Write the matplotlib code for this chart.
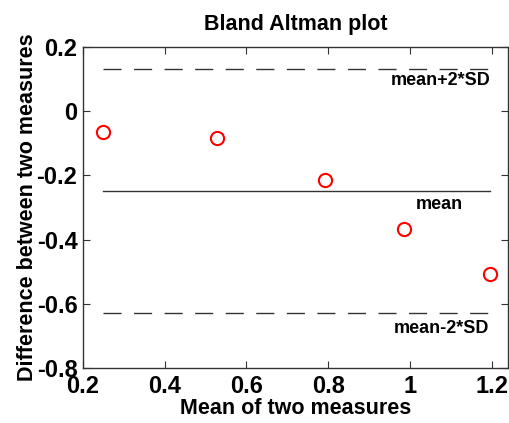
import matplotlib
matplotlib.use("Agg")
import matplotlib.pyplot as plt
import numpy as np

plt.rcParams['font.family'] = ['Liberation Sans', 'DejaVu Sans']
plt.rcParams['font.weight'] = 'bold'

mean_vals = [0.25, 0.527, 0.793, 0.985, 1.196]
diff_vals = [-0.065, -0.083, -0.213, -0.368, -0.508]
mean_diff = -0.25
upper = 0.13
lower = -0.63
xticks = [0.2, 0.4, 0.6, 0.8, 1.0, 1.2]
xticklabels = ['0.2', '0.4', '0.6', '0.8', '1', '1.2']
yticks = [-0.8, -0.6, -0.4, -0.2, 0, 0.2]
yticklabels = ['-0.8', '-0.6', '-0.4', '-0.2', '0', '0.2']

fig = plt.figure(figsize=(5.09, 4.23), dpi=100)
ax = fig.add_axes([0.163, 0.13, 0.835, 0.759])

xmin, xmax = min(mean_vals), max(mean_vals)
ax.plot([xmin, xmax], [upper, upper], color='#333333', lw=1.0, dashes=(13, 9))
ax.plot([xmin, xmax], [mean_diff, mean_diff], color='#333333', lw=1.0)
ax.plot([xmin, xmax], [lower, lower], color='#333333', lw=1.0, dashes=(13, 9))
ax.plot(mean_vals, diff_vals, 'o', mfc='none', mec='red', ms=9.5, mew=1.5)

ax.text(1.075, upper - 0.033, 'mean+2*SD', ha='center', va='center', fontsize=13, fontweight='bold')
ax.text(1.072, mean_diff - 0.04, 'mean', ha='center', va='center', fontsize=13, fontweight='bold')
ax.text(1.078, lower - 0.048, 'mean-2*SD', ha='center', va='center', fontsize=13, fontweight='bold')

ax.set_xlim(0.2, 1.24)
ax.set_ylim(-0.8, 0.2)
ax.set_xticks(xticks)
ax.set_xticklabels(xticklabels)
ax.set_yticks(yticks)
ax.set_yticklabels(yticklabels)
ax.tick_params(direction='in', length=5, top=True, right=True, labelsize=17, color='#333333')
ax.tick_params(axis='x', pad=5)
ax.tick_params(axis='y', pad=4)
for lab in ax.get_xticklabels() + ax.get_yticklabels():
    lab.set_fontweight('bold')
for s in ax.spines.values():
    s.set_color('#333333')
    s.set_linewidth(1.0)

ax.set_title('Bland Altman plot', fontsize=15.5, fontweight='bold', pad=12)
ax.set_xlabel('Mean of two measures', fontsize=15.5, fontweight='bold', labelpad=0)
ax.set_ylabel('Difference between two measures', fontsize=15.5, fontweight='bold', labelpad=-1)

fig.savefig('out.png', dpi=100)
